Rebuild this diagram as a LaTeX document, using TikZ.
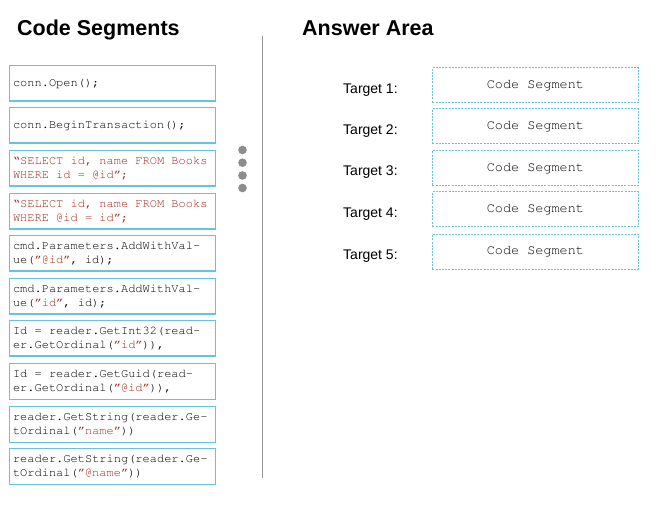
\documentclass[tikz,border=0pt]{standalone}
\usepackage{fontspec}
\setmainfont{Liberation Sans}
\definecolor{boxblue}{RGB}{105,193,218}
\definecolor{codered}{RGB}{163,40,30}
\definecolor{dotgray}{RGB}{140,140,140}
\definecolor{linegray}{RGB}{150,150,150}
\newcommand{\cour}{\fontencoding{T1}\fontfamily{pcr}\fontseries{m}\fontshape{n}}
\newlength{\codespc}
\tikzset{
  title/.style={anchor=base west, inner sep=0pt, font=\fontsize{21.5}{24}\selectfont\bfseries},
  segbox/.style={draw=boxblue, line width=1.1pt, anchor=north west, minimum width=206pt,
    minimum height=35.5pt, text width=199pt, inner xsep=3.5pt, inner ysep=2pt, align=left,
    font=\cour\fontsize{12}{14}\selectfont,
    execute at begin node={\setlength{\codespc}{7.2pt}\spaceskip=\codespc\xspaceskip=\codespc}},
  targetbox/.style={draw=boxblue, line width=0.8pt, dash pattern=on 2pt off 1.2pt, anchor=north west,
    minimum width=206pt, minimum height=35pt, inner sep=0pt,
    font=\cour\fontsize{13.5}{15}\selectfont,
    execute at begin node={\setlength{\codespc}{8.1pt}\spaceskip=\codespc\xspaceskip=\codespc}},
  targetlbl/.style={anchor=base west, inner sep=0pt, font=\fontsize{14}{16}\selectfont},
  dotc/.style={circle, fill=dotgray, minimum size=8.6pt, inner sep=0pt},
}
\newcommand{\rd}[1]{\textcolor{codered}{#1}}
\newcommand{\oq}{\textquotedblleft}
\newcommand{\cq}{\textquotedblright}
\begin{document}
\begin{tikzpicture}[x=1pt,y=-1pt]
\useasboundingbox[fill=white] (0,0) rectangle (661,510);
\node[title] (t1) at (17,36) {Code Segments};
\node[title] (t2) at (302,36) {Answer Area};
\coordinate (lt) at (262,36);
\coordinate (lb) at (262,478);
\draw[linegray, line width=1pt] (lt) -- (lb);
\node[segbox] (s1) at (9,65) {conn.Open();};
\node[segbox] (s2) at (9,107) {conn.BeginTransaction();};
\node[segbox] (s3) at (9,150) {\rd{\oq SELECT id, name FROM Books}\\\rd{WHERE id = @id\cq;}};
\node[segbox] (s4) at (9,193) {\rd{\oq SELECT id, name FROM Books}\\\rd{WHERE @id = id\cq;}};
\node[segbox] (s5) at (9,235) {cmd.Parameters.AddWithVal-\\ue(\rd{\cq @id\cq}, id);};
\node[segbox] (s6) at (9,278) {cmd.Parameters.AddWithVal-\\ue(\rd{\cq id\cq}, id);};
\node[segbox] (s7) at (9,320) {Id = reader.GetInt32(read-\\er.GetOrdinal(\rd{\cq id\cq})),};
\node[segbox] (s8) at (9,363) {Id = reader.GetGuid(read-\\er.GetOrdinal(\rd{\cq @id\cq})),};
\node[segbox] (s9) at (9,406) {reader.GetString(reader.Ge-\\tOrdinal(\rd{\cq name\cq}))};
\node[segbox] (s10) at (9,448) {reader.GetString(reader.Ge-\\tOrdinal(\rd{\cq @name\cq}))};
\node[dotc] (d1) at (242.5,150) {};
\node[dotc] (d2) at (242.5,162.7) {};
\node[dotc] (d3) at (242.5,175.5) {};
\node[dotc] (d4) at (242.5,188) {};
\foreach \i/\y in {1/67.3,2/108.5,3/150,4/191.5,5/233.8}{
  \node[targetbox] (b\i) at (432,\y) {Code Segment};
  \node[targetlbl] (l\i) at (343,\y+26) {Target \i:};
}
\end{tikzpicture}
\end{document}
